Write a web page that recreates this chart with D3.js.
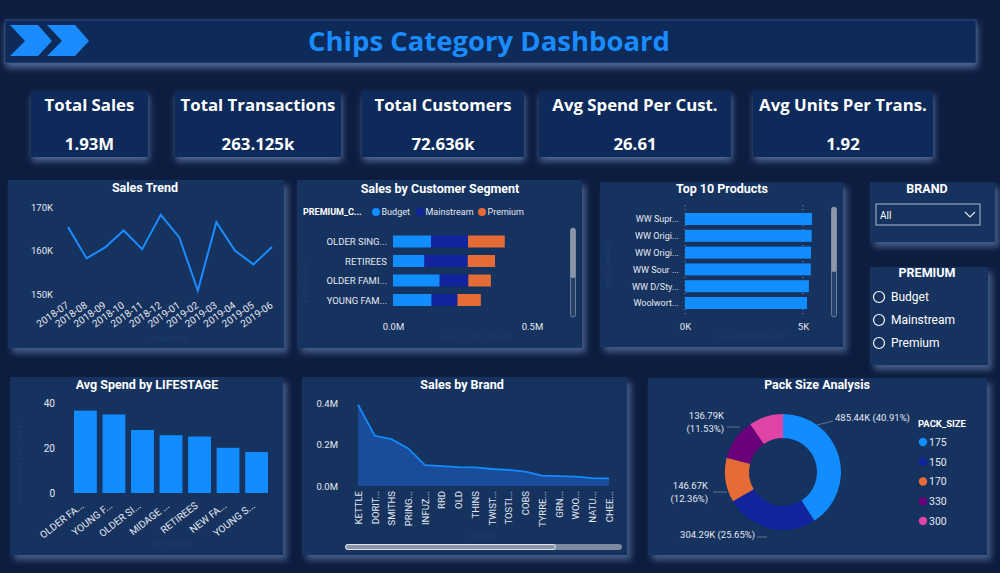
<!DOCTYPE html>
<html><head><meta charset="utf-8">
<script src="https://cdn.jsdelivr.net/npm/d3@7/dist/d3.min.js"></script>
<style>
body{margin:0;background:#0d1c3f;overflow:hidden}
svg text{font-family:Roboto,"Open Sans",sans-serif}
svg text.os{font-family:"Open Sans",sans-serif}
</style></head>
<body><svg id="c" width="1000" height="573"></svg>
<script>
// ---------------- DATA ----------------
const dashTitle = "Chips Category Dashboard";
const kpiLabels = ["Total Sales","Total Transactions","Total Customers","Avg Spend Per Cust.","Avg Units Per Trans."];
const kpiValues = ["1.93M","263.125k","72.636k","26.61","1.92"];

const trendMonths = ["2018-07","2018-08","2018-09","2018-10","2018-11","2018-12","2019-01","2019-02","2019-03","2019-04","2019-05","2019-06"];
const trendSales = [165.4,158.2,160.7,164.6,160.3,168.2,163.0,150.8,166.5,160.0,156.8,160.8]; // K
const trendTicks = [150,160,170];

const segments = ["OLDER SING...","RETIREES","OLDER FAMI...","YOUNG FAM..."];
const premiumKeys = ["Budget","Mainstream","Premium"];
const segBudget = [0.137,0.113,0.168,0.139];
const segMainstream = [0.133,0.156,0.103,0.093];
const segPremium = [0.132,0.098,0.081,0.084];
const segTicks = [0,0.5];

const products = ["WW Supr...","WW Origi...","WW Origi...","WW Sour ...","WW D/Sty...","Woolwort..."];
const productVals = [5.38,5.37,5.34,5.33,5.25,5.17]; // K
const productTicks = [0,5];

const brandOptions = ["All"];
const premiumOptions = ["Budget","Mainstream","Premium"];

const lifestages = ["OLDER FA...","YOUNG F...","OLDER SI...","MIDAGE ...","RETIREES","NEW FA...","YOUNG S..."];
const lifestageVals = [36.6,34.9,28.0,25.7,25.1,20.1,18.2];
const lifestageTicks = [0,20,40];

const brands = ["KETTLE","DORIT...","SMITHS","PRING...","INFUZ...","RRD","OLD","THINS","TWIST...","TOSTI...","COBS","TYRRE...","GRN...","WOO...","NATU...","CHEE..."];
const brandSales = [0.392,0.242,0.226,0.181,0.101,0.096,0.091,0.090,0.082,0.078,0.069,0.050,0.048,0.045,0.038,0.037]; // M
const brandTicks = [0,0.2,0.4];

const packSizes = ["175","150","170","330","300"];
const packSales = [485.44,304.29,146.67,136.79,113.30]; // K
const packLabelShown = [true,true,true,true,false];

// ---------------- STYLE ----------------
const C = {budget:"#118dff",main:"#12239e",prem:"#e66c37",purple:"#6b007b",pink:"#e044a7",
  panel:"#13305f",text:"#e4e9f2",title:"#ffffff",accent:"#1a8cff"};
const premColors = [C.budget,C.main,C.prem];
const packColors = [C.budget,C.main,C.prem,C.purple,C.pink];
const FS = 9.5;

const svg = d3.select("#c");
const defs = svg.append("defs");
const f = defs.append("filter").attr("id","sh").attr("x","-10%").attr("y","-15%").attr("width","125%").attr("height","140%");
f.append("feDropShadow").attr("dx",4).attr("dy",5).attr("stdDeviation",3).attr("flood-color","#7d9dd3").attr("flood-opacity",0.5);
const g2 = defs.append("filter").attr("id","glow").attr("x","-15%").attr("y","-25%").attr("width","130%").attr("height","160%");
g2.append("feDropShadow").attr("dx",1).attr("dy",4).attr("stdDeviation",3.5).attr("flood-color","#8fb0e8").attr("flood-opacity",0.55);

function panel(x,y,w,h,fill,filt){
  svg.append("rect").attr("x",x).attr("y",y).attr("width",w).attr("height",h)
    .attr("fill",fill||C.panel).attr("filter",`url(#${filt||"sh"})`);
}
function title(txt,cx,y,size){
  svg.append("text").attr("x",cx).attr("y",y).attr("text-anchor","middle")
    .attr("font-size",size||12.5).attr("font-weight","bold").attr("fill",C.title).text(txt);
}
function styleAxis(g){
  g.select(".domain").remove();
  g.selectAll(".tick line").remove();
  g.selectAll("text").attr("fill",C.text).attr("font-size",FS);
}
function faint(txt,x,y,rot){
  const t = svg.append("text").attr("x",x).attr("y",y).attr("text-anchor","middle").attr("font-size",8)
    .attr("fill","#1f3c6c").text(txt);
  if(rot) t.attr("transform",`rotate(-90,${x},${y})`);
}

// ---------------- HEADER ----------------
svg.append("rect").attr("x",5).attr("y",20).attr("width",971).attr("height",43)
  .attr("fill","#0f2a59").attr("stroke","#2b4878").attr("stroke-width",1).attr("filter","url(#glow)");
const chev = [[0,0],[28,0],[42,16],[28,31],[0,31],[15,16]];
[10,47].forEach(x0=>{
  svg.append("polygon").attr("points",chev.map(p=>[p[0]+x0,p[1]+25].join(",")).join(" ")).attr("fill",C.accent);
});
svg.append("text").attr("class","os").attr("x",489).attr("y",51).attr("text-anchor","middle").attr("font-size",27.5)
  .attr("font-weight","bold").attr("fill",C.accent).text(dashTitle);

// ---------------- KPI CARDS ----------------
const kpiBoxes = [[31,91,117],[175,91,166],[362,91,162],[539,91,192],[753,91,180]];
kpiBoxes.forEach((b,i)=>{
  panel(b[0],b[1],b[2],66,"#10295a","glow");
  svg.append("text").attr("class","os").attr("x",b[0]+b[2]/2).attr("y",111).attr("text-anchor","middle").attr("font-size",16.8)
    .attr("font-weight","bold").attr("fill","#fff").text(kpiLabels[i]);
  svg.append("text").attr("class","os").attr("x",b[0]+b[2]/2).attr("y",150).attr("text-anchor","middle").attr("font-size",16.8)
    .attr("font-weight","bold").attr("fill","#fff").text(kpiValues[i]);
});

// ---------------- SALES TREND ----------------
panel(8,180,276,168);
title("Sales Trend",145,192);
{
  const x = d3.scalePoint().domain(trendMonths).range([68,272]);
  const y = d3.scaleLinear().domain([150,170]).range([294,207]);
  svg.append("g").attr("transform","translate(56,0)")
    .call(d3.axisLeft(y).tickValues(trendTicks).tickFormat(d=>d+"K").tickSize(0).tickPadding(3)).call(styleAxis);
  const gx = svg.append("g").attr("transform","translate(0,296)")
    .call(d3.axisBottom(x).tickSize(0)).call(styleAxis);
  gx.selectAll("text").attr("x",0).attr("y",0).attr("dy","0.35em").attr("text-anchor","end").attr("font-size",10)
    .attr("transform","translate(-1,8) rotate(-35)");
  svg.append("path").datum(trendSales)
    .attr("d",d3.line().x((d,i)=>x(trendMonths[i])).y(d=>y(d)))
    .attr("fill","none").attr("stroke",C.accent).attr("stroke-width",2);
  faint("YearMonth",170,341);
}

// ---------------- SALES BY CUSTOMER SEGMENT ----------------
panel(297,180,285,168);
title("Sales by Customer Segment",440,193);
{
  const lg = svg.append("g");
  lg.append("text").attr("x",303).attr("y",215).attr("font-size",9).attr("font-weight","bold").attr("fill","#fff").text("PREMIUM_C...");
  const lx = [376,420,482];
  premiumKeys.forEach((k,i)=>{
    lg.append("circle").attr("cx",lx[i]).attr("cy",212).attr("r",4).attr("fill",premColors[i]);
    lg.append("text").attr("x",lx[i]+5.5).attr("y",215).attr("font-size",9).attr("fill",C.text).text(k);
  });
  const x = d3.scaleLinear().domain([0,0.5]).range([393,532]);
  const y = d3.scalePoint().domain(segments).range([241.5,300]);
  const rows = segments.map((s,i)=>({seg:s,Budget:segBudget[i],Mainstream:segMainstream[i],Premium:segPremium[i]}));
  const st = d3.stack().keys(premiumKeys)(rows);
  st.forEach((layer,li)=>{
    svg.append("g").selectAll("rect").data(layer).join("rect")
      .attr("x",d=>x(d[0])).attr("width",d=>x(d[1])-x(d[0]))
      .attr("y",d=>y(d.data.seg)-6).attr("height",12).attr("fill",premColors[li]);
  });
  svg.append("g").attr("transform","translate(387,0)")
    .call(d3.axisLeft(y).tickSize(0).tickPadding(0)).call(styleAxis)
    .selectAll("text").attr("font-size",9.5);
  svg.append("g").attr("transform","translate(0,320)")
    .call(d3.axisBottom(x).tickValues(segTicks).tickFormat(d=>d.toFixed(1)+"M").tickSize(0)).call(styleAxis);
  svg.append("rect").attr("x",570.5).attr("y",228).attr("width",5).attr("height",89).attr("rx",2.5)
    .attr("fill","#27406a").attr("stroke","#7f8ea6").attr("stroke-width",0.8);
  svg.append("rect").attr("x",570.5).attr("y",228).attr("width",5).attr("height",50).attr("rx",2.5).attr("fill","#8c97aa");
  faint("Sum of TOT_SALES",477,339);
  faint("LIFESTAGE",308,282,true);
}

// ---------------- TOP 10 PRODUCTS ----------------
panel(600,182,243,165);
title("Top 10 Products",722,193);
{
  const idx = products.map((d,i)=>i);
  const x = d3.scaleLinear().domain([0,5]).range([685,803]);
  const y = d3.scalePoint().domain(idx).range([219,303]);
  productTicks.forEach(t=>{
    svg.append("line").attr("x1",x(t)).attr("x2",x(t)).attr("y1",205).attr("y2",317)
      .attr("stroke","#9aa8bf").attr("stroke-width",0.8).attr("stroke-dasharray","1,3");
  });
  svg.append("g").selectAll("rect").data(productVals).join("rect")
    .attr("x",x(0)).attr("width",d=>x(d)-x(0)).attr("y",(d,i)=>y(i)-6).attr("height",12).attr("fill",C.budget);
  svg.append("g").attr("transform","translate(679,0)")
    .call(d3.axisLeft(y).tickSize(0).tickPadding(0).tickFormat(i=>products[i])).call(styleAxis)
    .selectAll("text").attr("font-size",9);
  svg.append("g").attr("transform","translate(0,320)")
    .call(d3.axisBottom(x).tickValues(productTicks).tickFormat(d=>d+"K").tickSize(0)).call(styleAxis);
  svg.append("rect").attr("x",831.5).attr("y",207).attr("width",5).attr("height",110).attr("rx",2.5)
    .attr("fill","#27406a").attr("stroke","#7f8ea6").attr("stroke-width",0.8);
  svg.append("rect").attr("x",831.5).attr("y",207).attr("width",5).attr("height",65).attr("rx",2.5).attr("fill","#8c97aa");
  faint("Sum of PROD_QTY",752,339);
  faint("PROD_NAME",610,265,true);
}

// ---------------- SLICERS ----------------
panel(870,182,125,60);
title("BRAND",927,193);
svg.append("rect").attr("x",876).attr("y",204).attr("width",104).attr("height",21)
  .attr("fill","none").attr("stroke","#aebbd2").attr("stroke-width",1);
svg.append("text").attr("x",880).attr("y",219).attr("font-size",10).attr("fill","#fff").text(brandOptions[0]);
svg.append("path").attr("d","M965,212 L970,217 L975,212").attr("fill","none").attr("stroke","#dfe6f0").attr("stroke-width",1.2);

panel(870,267,118,98);
title("PREMIUM",927,277);
{
  const y = d3.scalePoint().domain(premiumOptions).range([297,343]);
  premiumOptions.forEach(o=>{
    svg.append("circle").attr("cx",879).attr("cy",y(o)).attr("r",5.5).attr("fill","none").attr("stroke","#fff").attr("stroke-width",1.2);
    svg.append("text").attr("x",891).attr("y",y(o)+4.3).attr("font-size",12).attr("fill","#fff").text(o);
  });
}

// ---------------- AVG SPEND BY LIFESTAGE ----------------
panel(10,377,273,178);
title("Avg Spend by LIFESTAGE",147,389);
{
  const x = d3.scaleBand().domain(lifestages).range([70,272]).paddingInner(0.2).paddingOuter(0.14);
  const y = d3.scaleLinear().domain([0,40]).range([493,403]);
  svg.append("g").attr("transform","translate(58,0)")
    .call(d3.axisLeft(y).tickValues(lifestageTicks).tickSize(0).tickPadding(3)).call(styleAxis)
    .selectAll("text").attr("font-size",10);
  svg.append("g").selectAll("rect").data(lifestageVals).join("rect")
    .attr("x",(d,i)=>x(lifestages[i])).attr("width",x.bandwidth())
    .attr("y",d=>y(d)).attr("height",d=>y(0)-y(d)).attr("fill",C.budget);
  const gx = svg.append("g").attr("transform","translate(0,496)")
    .call(d3.axisBottom(x).tickSize(0)).call(styleAxis);
  gx.selectAll("text").attr("x",0).attr("y",0).attr("dy","0.35em").attr("text-anchor","end").attr("font-size",10)
    .attr("transform","translate(-3,8) rotate(-38)");
  faint("LIFESTAGE",172,546);
  faint("Average of TOT_SALES",22,460,true);
}

// ---------------- SALES BY BRAND ----------------
panel(302,377,325,178);
title("Sales by Brand",462,389);
{
  const x = d3.scalePoint().domain(brands).range([358,609]);
  const y = d3.scaleLinear().domain([0,0.4]).range([486,403]);
  svg.append("g").attr("transform","translate(341,0)")
    .call(d3.axisLeft(y).tickValues(brandTicks).tickFormat(d=>d.toFixed(1)+"M").tickSize(0).tickPadding(3)).call(styleAxis);
  svg.append("path").datum(brandSales)
    .attr("d",d3.area().x((d,i)=>x(brands[i])).y0(y(0)).y1(d=>y(d)))
    .attr("fill","#1a4e9c").attr("opacity",0.95);
  svg.append("path").datum(brandSales)
    .attr("d",d3.line().x((d,i)=>x(brands[i])).y(d=>y(d)))
    .attr("fill","none").attr("stroke",C.budget).attr("stroke-width",1.8);
  const gx = svg.append("g").attr("transform","translate(0,491)")
    .call(d3.axisBottom(x).tickSize(0)).call(styleAxis);
  gx.selectAll("text").attr("x",0).attr("y",0).attr("dy","0.35em").attr("text-anchor","end")
    .attr("transform","rotate(-90)");
  svg.append("rect").attr("x",345).attr("y",544).attr("width",277).attr("height",6).attr("rx",3).attr("fill","#7d8aa0");
  svg.append("rect").attr("x",345.5).attr("y",544.5).attr("width",210).attr("height",5).attr("rx",2.5)
    .attr("fill","#8a95a8").attr("stroke","#e8edf5").attr("stroke-width",0.9);
  faint("BRAND",482,538);
}

// ---------------- PACK SIZE ANALYSIS ----------------
panel(648,378,339,177);
title("Pack Size Analysis",817,389,12.5);
{
  const cx = 783, cy = 472;
  const total = d3.sum(packSales);
  const pie = d3.pie().sort(null).value(d=>d)(packSales);
  const arc = d3.arc().innerRadius(34).outerRadius(58);
  const g = svg.append("g").attr("transform",`translate(${cx},${cy})`);
  g.selectAll("path").data(pie).join("path").attr("d",arc).attr("fill",(d,i)=>packColors[i]);
  // label layout (relative to centre): [x, y, anchor, twoLines]
  const lay = [[52,-51,"start",false],[-28,66,"end",false],[-75,17,"end",true],[-59,-53,"end",true],[0,0,"start",false]];
  const fmt = (v)=> v.toFixed(2)+"K";
  const pct = (v)=> "("+(v/total*100).toFixed(2)+"%)";
  pie.forEach((p,i)=>{
    if(!packLabelShown[i]) return;
    const L = lay[i];
    const t = g.append("text").attr("x",L[0]).attr("y",L[1]).attr("text-anchor",L[2]).attr("font-size",9.5).attr("fill",C.text);
    if(L[3]){
      t.append("tspan").attr("x",L[0]).text(fmt(packSales[i]));
      t.append("tspan").attr("x",L[0]).attr("dy",13).text(pct(packSales[i]));
    } else t.text(fmt(packSales[i])+" "+pct(packSales[i]));
  });
  const leaders = [[[34,-47],[50,-51]],[[-16,65],[-26,65]],[[-56,20],[-70,20]],[[-43,-45],[-56,-45]]];
  leaders.forEach(l=>g.append("path").attr("d",d3.line()(l)).attr("stroke","#7f8fa8").attr("stroke-width",0.7).attr("fill","none"));
  const lg = svg.append("g");
  lg.append("text").attr("x",918).attr("y",427).attr("font-size",9.5).attr("font-weight","bold").attr("fill","#fff").text("PACK_SIZE");
  const ly = d3.scalePoint().domain(packSizes).range([442,521]);
  packSizes.forEach((s,i)=>{
    lg.append("circle").attr("cx",923).attr("cy",ly(s)).attr("r",4.2).attr("fill",packColors[i]);
    lg.append("text").attr("x",929).attr("y",ly(s)+3.8).attr("font-size",10.5).attr("fill",C.text).text(s);
  });
}
</script></body></html>
